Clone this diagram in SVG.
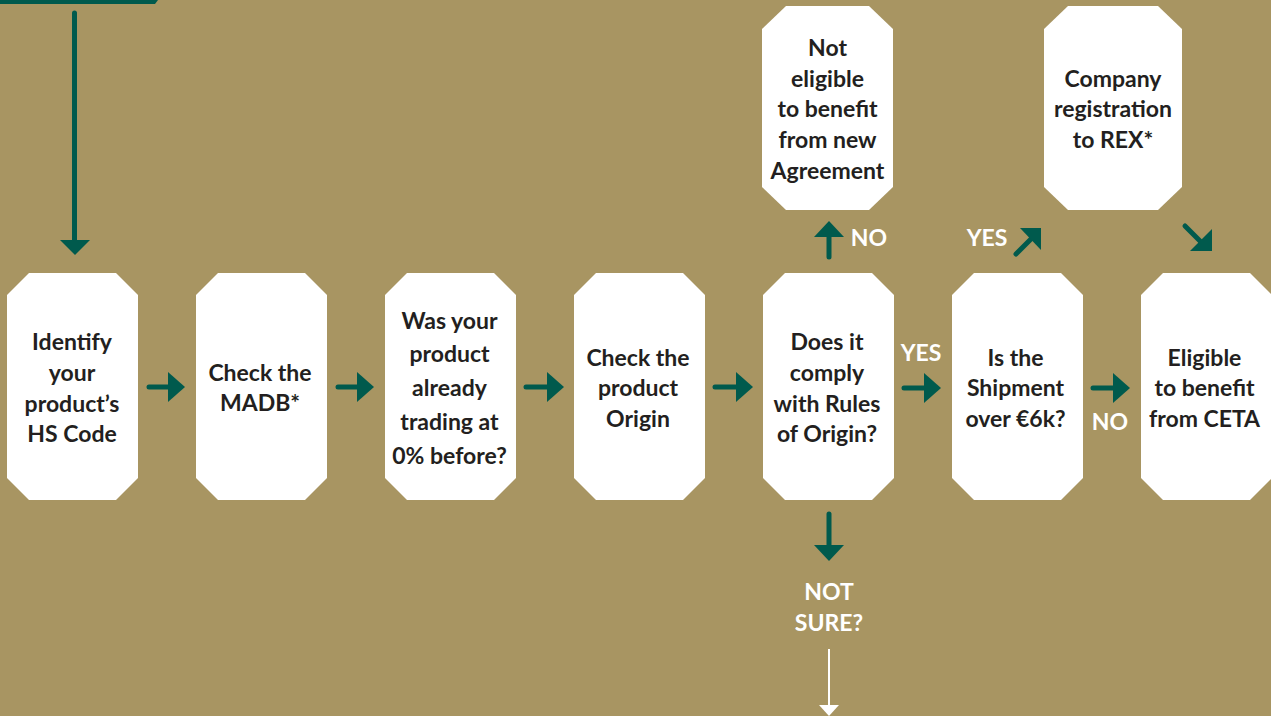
<svg xmlns="http://www.w3.org/2000/svg" width="1271" height="716" viewBox="0 0 1271 716">
<style>
.box{fill:#ffffff;}
.t{font-family:Lato,"Liberation Sans",sans-serif;font-weight:700;font-size:23px;fill:#231f20;text-anchor:middle;}
.w{font-family:Lato,"Liberation Sans",sans-serif;font-weight:700;font-size:23px;fill:#ffffff;text-anchor:middle;}
.g{stroke:#005a4d;stroke-width:5;stroke-linecap:round;fill:none;}
.gh{fill:#005a4d;}
</style>
<rect width="1271" height="716" fill="#a89562"/>
<g id="top-bar"><polygon points="0,0 158,0 155,4 0,4" fill="#005a4d"/></g>

<g id="n1"><polygon class="box" points="29,273 116,273 138,295 138,478 116,500 29,500 7,478 7,295"/>
<text class="t" x="72" y="350">Identify</text><text class="t" x="72" y="381">your</text><text class="t" x="72" y="412">product’s</text><text class="t" x="72" y="442">HS Code</text></g>

<g id="n2"><polygon class="box" points="218,273 305,273 327,295 327,478 305,500 218,500 196,478 196,295"/>
<text class="t" x="260" y="381">Check the</text><text class="t" x="260" y="411">MADB*</text></g>

<g id="n3"><polygon class="box" points="407,273 494,273 516,295 516,478 494,500 407,500 385,478 385,295"/>
<text class="t" x="449.5" y="329">Was your</text><text class="t" x="449.5" y="362">product</text><text class="t" x="449.5" y="396">already</text><text class="t" x="449.5" y="430">trading at</text><text class="t" x="449.5" y="464">0% before?</text></g>

<g id="n4"><polygon class="box" points="596,273 683,273 705,295 705,478 683,500 596,500 574,478 574,295"/>
<text class="t" x="638" y="366">Check the</text><text class="t" x="638" y="396">product</text><text class="t" x="638" y="427">Origin</text></g>

<g id="n5"><polygon class="box" points="785,273 872,273 894,295 894,478 872,500 785,500 763,478 763,295"/>
<text class="t" x="827" y="350">Does it</text><text class="t" x="827" y="381">comply</text><text class="t" x="827" y="412">with Rules</text><text class="t" x="827" y="442">of Origin?</text></g>

<g id="n6"><polygon class="box" points="974,273 1061,273 1083,295 1083,478 1061,500 974,500 952,478 952,295"/>
<text class="t" x="1015.5" y="366">Is the</text><text class="t" x="1015.5" y="396">Shipment</text><text class="t" x="1015.5" y="427">over €6k?</text></g>

<g id="n7"><polygon class="box" points="1163,273 1250,273 1272,295 1272,478 1250,500 1163,500 1141,478 1141,295"/>
<text class="t" x="1204.5" y="366">Eligible</text><text class="t" x="1204.5" y="396">to benefit</text><text class="t" x="1204.5" y="427">from CETA</text></g>

<g id="n-not-eligible"><polygon class="box" points="786,6 869,6 893,29 893,187 869,210 786,210 762,187 762,29"/>
<text class="t" x="827.5" y="56">Not</text><text class="t" x="827.5" y="87">eligible</text><text class="t" x="827.5" y="117">to benefit</text><text class="t" x="827.5" y="148">from new</text><text class="t" x="827.5" y="179">Agreement</text></g>

<g id="n-rex"><polygon class="box" points="1068,6 1158,6 1182,29 1182,187 1158,210 1068,210 1044,187 1044,29"/>
<text class="t" x="1113" y="87">Company</text><text class="t" x="1113" y="117">registration</text><text class="t" x="1113" y="148">to REX*</text></g>

<g id="connectors">
<line class="g" x1="74.5" y1="13" x2="74.5" y2="242"/><polygon class="gh" points="60,240 90,240 75,255"/>
<line class="g" x1="149" y1="387" x2="170" y2="387"/><polygon class="gh" points="168,372 185,387 168,402"/>
<line class="g" x1="338" y1="387" x2="359" y2="387"/><polygon class="gh" points="357,372 374,387 357,402"/>
<line class="g" x1="526" y1="387" x2="549" y2="387"/><polygon class="gh" points="547,372 564,387 547,402"/>
<line class="g" x1="715" y1="387" x2="738" y2="387"/><polygon class="gh" points="736,372 753,387 736,402"/>
<line class="g" x1="904" y1="388" x2="926" y2="388"/><polygon class="gh" points="924,373 941,388 924,403"/>
<line class="g" x1="1093" y1="388" x2="1115" y2="388"/><polygon class="gh" points="1113,373 1130,388 1113,403"/>
<line class="g" x1="829" y1="257" x2="829" y2="235"/><polygon class="gh" points="814,237 844,237 829,221"/>
<line class="g" x1="1016" y1="254" x2="1033" y2="237"/><polygon class="gh" points="1020,228 1041,228 1041,250"/>
<line class="g" x1="1185" y1="226" x2="1201" y2="242"/><polygon class="gh" points="1190,251 1212,251 1212,229"/>
<line class="g" x1="829" y1="514" x2="829" y2="547"/><polygon class="gh" points="814,545 844,545 829,561"/>
<line x1="829" y1="649" x2="829" y2="707" stroke="#ffffff" stroke-width="2"/><polygon points="819,705 839,705 829,716" fill="#ffffff"/>
</g>

<g id="labels">
<text class="w" x="921" y="361">YES</text>
<text class="w" x="1110" y="430">NO</text>
<text class="w" x="869" y="246">NO</text>
<text class="w" x="987" y="246">YES</text>
<text class="w" x="829" y="600">NOT</text>
<text class="w" x="829" y="631">SURE?</text>
</g>
</svg>
